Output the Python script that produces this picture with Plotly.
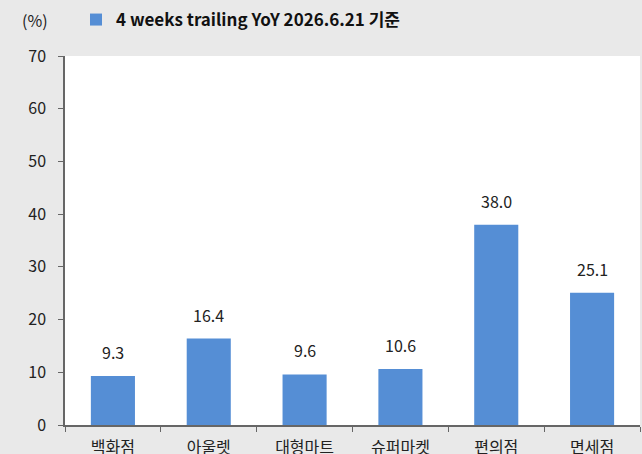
import plotly.graph_objects as go

categories = ["백화점", "아울렛", "대형마트", "슈퍼마켓", "편의점", "면세점"]
values = [9.3, 16.4, 9.6, 10.6, 38.0, 25.1]
labels = ["9.3", "16.4", "9.6", "10.6", "38.0", "25.1"]
series_name = "4 weeks trailing YoY 2026.6.21 기준"
y_ticks = [0, 10, 20, 30, 40, 50, 60, 70]

FONT = "Noto Sans CJK KR, Noto Sans, sans-serif"
PH = 369.0  # plot height in px
PW = 575.0

fig = go.Figure()
fig.add_trace(go.Bar(
    x=categories, y=values, name="<b>" + series_name + "</b>",
    marker=dict(color="#558ed5", line=dict(width=0)),
    width=0.46, showlegend=True,
))

annotations = [dict(text="(%)", x=(35 - 65) / PW, y=1 + (56 - 20) / PH,
                    xref="paper", yref="paper", xanchor="center", yanchor="middle",
                    showarrow=False, font=dict(size=16))]
for c, v, t in zip(categories, values, labels):
    annotations.append(dict(text=t, x=c, y=v, xref="x", yref="y", xanchor="center",
                            yanchor="bottom", yshift=10, showarrow=False,
                            font=dict(size=16, color="#222222")))

fig.update_layout(
    width=642, height=454,
    margin=dict(l=65, r=2, t=56, b=29),
    paper_bgcolor="#e9e9e9", plot_bgcolor="#ffffff",
    font=dict(family=FONT, size=16, color="#222222"),
    showlegend=True,
    legend=dict(orientation="h", x=(76 - 65) / PW, xanchor="left",
                y=1 + (56 - 20) / PH, yanchor="middle", yref="paper",
                bgcolor="rgba(0,0,0,0)",
                font=dict(size=17, color="#111111", family=FONT),
                itemwidth=30),
    xaxis=dict(type="category", showline=True, linecolor="#666666", linewidth=1.5,
               ticks="outside", ticklen=5, tickcolor="#666666", tickson="boundaries",
               tickfont=dict(size=16), showgrid=False, ticklabelstandoff=7,
               automargin=False),
    yaxis=dict(range=[0, 70], tickvals=y_ticks, showline=True, linecolor="#666666",
               linewidth=1.5, ticks="outside", ticklen=5, tickcolor="#666666",
               showgrid=False, zeroline=False, tickfont=dict(size=16),
               ticklabelstandoff=9, automargin=False),
    annotations=annotations,
)

fig.write_html("out.html")
